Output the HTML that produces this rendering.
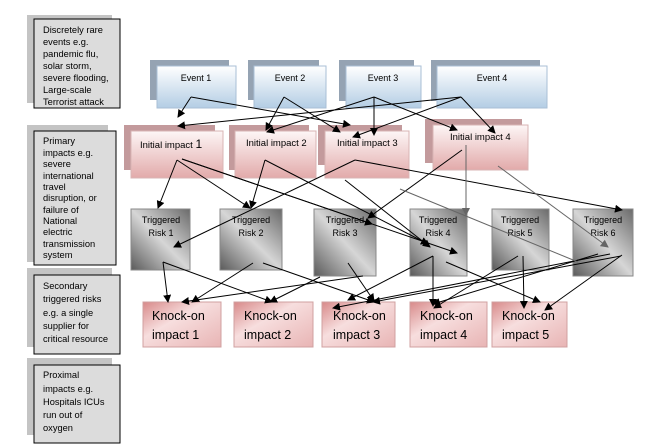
<!DOCTYPE html>
<html><head><meta charset="utf-8"><style>
body{margin:0;background:#fff;}
svg{display:block;font-family:"Liberation Sans",sans-serif;}
</style></head><body>
<svg width="653" height="447" viewBox="0 0 653 447" xmlns="http://www.w3.org/2000/svg">
<defs>
<linearGradient id="blue" x1="0" y1="0" x2="0" y2="1"><stop offset="0" stop-color="#ffffff"/><stop offset="1" stop-color="#b3cde4"/></linearGradient>
<linearGradient id="pink" x1="0" y1="0" x2="0" y2="1"><stop offset="0" stop-color="#fdf6f6"/><stop offset="1" stop-color="#e2aaaa"/></linearGradient>
<linearGradient id="knock" x1="0" y1="0" x2="1" y2="1"><stop offset="0" stop-color="#d88a8a"/><stop offset="0.4" stop-color="#f7dede"/><stop offset="1" stop-color="#e8b4b4"/></linearGradient>
<linearGradient id="gray" x1="0" y1="1" x2="1" y2="0"><stop offset="0" stop-color="#5a5a5a"/><stop offset="0.5" stop-color="#d6d6d6"/><stop offset="1" stop-color="#6a6a6a"/></linearGradient>
<marker id="a" markerWidth="8" markerHeight="8" refX="7" refY="4" orient="auto" markerUnits="userSpaceOnUse"><path d="M0,0 L8,4 L0,8 Z" fill="#000"/></marker>
<marker id="g" markerWidth="8" markerHeight="8" refX="7" refY="4" orient="auto" markerUnits="userSpaceOnUse"><path d="M0,0 L8,4 L0,8 Z" fill="#666"/></marker>
</defs>

<g font-size="9.3" fill="#000">
<rect x="27" y="15" width="85" height="88" fill="#c4c4c4"/>
<rect x="34" y="19" width="86" height="89" fill="#dcdcdc" stroke="#000"/>
<text x="43" y="33">Discretely rare</text><text x="43" y="45">events e.g.</text><text x="43" y="57">pandemic flu,</text><text x="43" y="69">solar storm,</text><text x="43" y="81">severe flooding,</text><text x="43" y="93">Large-scale</text><text x="43" y="105">Terrorist attack</text>

<rect x="27" y="125" width="81" height="137" fill="#c4c4c4"/>
<rect x="34" y="131" width="82" height="134" fill="#dcdcdc" stroke="#000"/>
<text x="43" y="144">Primary</text><text x="43" y="156">impacts e.g.</text><text x="43" y="167">severe</text><text x="43" y="179">international</text><text x="43" y="190">travel</text><text x="43" y="201">disruption, or</text><text x="43" y="213">failure of</text><text x="43" y="224">National</text><text x="43" y="235">electric</text><text x="43" y="247">transmission</text><text x="43" y="258">system</text>

<rect x="27" y="268" width="85" height="79" fill="#c4c4c4"/>
<rect x="34" y="275" width="86" height="79" fill="#dcdcdc" stroke="#000"/>
<text x="43" y="289">Secondary</text><text x="43" y="302">triggered risks</text><text x="43" y="316">e.g. a single</text><text x="43" y="329">supplier for</text><text x="43" y="342">critical resource</text>

<rect x="27" y="358" width="85" height="77" fill="#c4c4c4"/>
<rect x="34" y="365" width="86" height="78" fill="#dcdcdc" stroke="#000"/>
<text x="43" y="378">Proximal</text><text x="43" y="392">impacts e.g.</text><text x="43" y="405">Hospitals ICUs</text><text x="43" y="418">run out of</text><text x="43" y="431">oxygen</text>
</g>

<g font-size="9" text-anchor="middle">
<rect x="150" y="60" width="79" height="40" fill="#95a3b3"/><rect x="157" y="66" width="79" height="42" fill="url(#blue)" stroke="#a9bfd6"/><text x="196" y="81">Event 1</text>
<rect x="248" y="60" width="71" height="40" fill="#95a3b3"/><rect x="254" y="66" width="72" height="42" fill="url(#blue)" stroke="#a9bfd6"/><text x="290" y="81">Event 2</text>
<rect x="339" y="60" width="75" height="41" fill="#95a3b3"/><rect x="346" y="66" width="75" height="42" fill="url(#blue)" stroke="#a9bfd6"/><text x="383" y="81">Event 3</text>
<rect x="431" y="60" width="109" height="41" fill="#95a3b3"/><rect x="437" y="66" width="110" height="42" fill="url(#blue)" stroke="#a9bfd6"/><text x="492" y="81">Event 4</text>
</g>

<g font-size="9.5">
<rect x="124" y="125" width="91" height="45" fill="#c39a9c"/><rect x="131" y="131" width="92" height="47" fill="url(#pink)" stroke="#d8b4b4"/><text x="140" y="148">Initial impact <tspan font-size="12">1</tspan></text>
<rect x="229" y="125" width="80" height="45" fill="#c39a9c"/><rect x="235" y="131" width="81" height="47" fill="url(#pink)" stroke="#d8b4b4"/><text x="246" y="146">Initial impact 2</text>
<rect x="318" y="125" width="84" height="40" fill="#c39a9c"/><rect x="325" y="131" width="84" height="47" fill="url(#pink)" stroke="#d8b4b4"/><text x="337" y="146">Initial impact 3</text>
<rect x="425" y="119" width="97" height="44" fill="#c39a9c"/><rect x="433" y="125" width="95" height="45" fill="url(#pink)" stroke="#d8b4b4"/><text x="450" y="140">Initial impact 4</text>
</g>

<g font-size="9" text-anchor="middle">
<rect x="131" y="209" width="59" height="61" fill="url(#gray)" stroke="#888"/><text x="161" y="223">Triggered</text><text x="161" y="236">Risk 1</text>
<rect x="220" y="209" width="62" height="61" fill="url(#gray)" stroke="#888"/><text x="251" y="223">Triggered</text><text x="251" y="236">Risk 2</text>
<rect x="314" y="209" width="62" height="67" fill="url(#gray)" stroke="#888"/><text x="345" y="223">Triggered</text><text x="345" y="236">Risk 3</text>
<rect x="410" y="209" width="57" height="67" fill="url(#gray)" stroke="#888"/><text x="438" y="223">Triggered</text><text x="438" y="236">Risk 4</text>
<rect x="492" y="209" width="57" height="61" fill="url(#gray)" stroke="#888"/><text x="520" y="223">Triggered</text><text x="520" y="236">Risk 5</text>
<rect x="573" y="209" width="60" height="67" fill="url(#gray)" stroke="#888"/><text x="603" y="223">Triggered</text><text x="603" y="236">Risk 6</text>
</g>

<g font-size="12.5">
<rect x="143" y="302" width="78" height="45" fill="url(#knock)" stroke="#d0a0a0"/><text x="152" y="320">Knock-on</text><text x="152" y="339">impact 1</text>
<rect x="234" y="302" width="79" height="45" fill="url(#knock)" stroke="#d0a0a0"/><text x="244" y="320">Knock-on</text><text x="244" y="339">impact 2</text>
<rect x="322" y="302" width="73" height="45" fill="url(#knock)" stroke="#d0a0a0"/><text x="333" y="320">Knock-on</text><text x="333" y="339">impact 3</text>
<rect x="410" y="302" width="77" height="45" fill="url(#knock)" stroke="#d0a0a0"/><text x="420" y="320">Knock-on</text><text x="420" y="339">impact 4</text>
<rect x="492" y="302" width="75" height="45" fill="url(#knock)" stroke="#d0a0a0"/><text x="502" y="320">Knock-on</text><text x="502" y="339">impact 5</text>
</g>

<g stroke="#000" stroke-width="1" fill="none" marker-end="url(#a)">
<line x1="191" y1="97" x2="178" y2="117"/>
<line x1="191" y1="97" x2="350" y2="125"/>
<line x1="284" y1="97" x2="266" y2="130"/>
<line x1="284" y1="97" x2="340" y2="132"/>
<line x1="461" y1="97" x2="178" y2="126"/>
<line x1="374" y1="97" x2="267" y2="132"/>
<line x1="374" y1="97" x2="374" y2="135"/>
<line x1="374" y1="97" x2="457" y2="130"/>
<line x1="461" y1="97" x2="353" y2="137"/>
<line x1="461" y1="97" x2="495" y2="133"/>

<line x1="177" y1="160" x2="158" y2="208"/>
<line x1="177" y1="160" x2="250" y2="208"/>
<line x1="265" y1="160" x2="251" y2="208"/>
<line x1="182" y1="159" x2="372" y2="224"/>
<line x1="182" y1="159" x2="457" y2="253"/>
<line x1="265" y1="160" x2="428" y2="244"/>
<line x1="355" y1="160" x2="174" y2="247"/>
<line x1="355" y1="160" x2="622" y2="210"/>
<line x1="345" y1="180" x2="430" y2="247"/>
<line x1="462" y1="150" x2="368" y2="218"/>

<line x1="163" y1="262" x2="168" y2="302"/>
<line x1="163" y1="262" x2="272" y2="302"/>
<line x1="253" y1="263" x2="192" y2="302"/>
<line x1="263" y1="263" x2="374" y2="302"/>
<line x1="348" y1="263" x2="374" y2="301"/>
<line x1="320" y1="277" x2="270" y2="302"/>
<line x1="363" y1="276" x2="182" y2="302"/>
<line x1="433" y1="256" x2="348" y2="300"/>
<line x1="433" y1="256" x2="433" y2="306"/>
<line x1="446" y1="262" x2="540" y2="302"/>
<line x1="518" y1="256" x2="434" y2="308"/>
<line x1="523" y1="256" x2="524" y2="308"/>
<line x1="598" y1="254" x2="433" y2="304"/>
<line x1="610" y1="254" x2="333" y2="308"/>
<line x1="621" y1="256" x2="373" y2="302"/>
<line x1="622" y1="255" x2="545" y2="310"/>
</g>
<g stroke="#666" stroke-width="1" fill="none">
<line x1="466" y1="145" x2="466" y2="215" marker-end="url(#g)"/>
<line x1="498" y1="166" x2="608" y2="247" marker-end="url(#g)"/>
<line x1="400" y1="189" x2="578" y2="262"/>
</g>
</svg>
</body></html>
